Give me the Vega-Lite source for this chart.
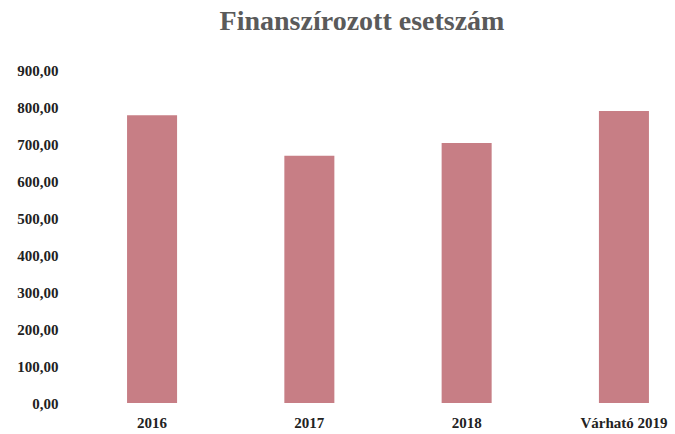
{
  "$schema": "https://vega.github.io/schema/vega-lite/v6.json",
  "autosize": {"type": "none"},
  "width": 576,
  "height": 333,
  "padding": {"left": 100, "top": 70, "right": 0, "bottom": 31},
  "background": "white",
  "title": {
    "text": "Finanszírozott esetszám",
    "font": "Liberation Serif",
    "fontSize": 28,
    "fontWeight": "bold",
    "color": "#5a5a5a",
    "anchor": "middle",
    "frame": "group",
    "baseline": "alphabetic",
    "offset": 5,
    "dx": -26
  },
  "data": {
    "values": [
      {"ev": "2016", "ertek": 778},
      {"ev": "2017", "ertek": 668},
      {"ev": "2018", "ertek": 703},
      {"ev": "Várható 2019", "ertek": 789}
    ]
  },
  "mark": {"type": "bar", "color": "#c77e85"},
  "encoding": {
    "x": {
      "field": "ev",
      "type": "nominal",
      "sort": null,
      "scale": {"paddingInner": 0.682, "paddingOuter": 0.172},
      "axis": {
        "title": null,
        "labelAngle": 0,
        "domain": false,
        "ticks": false,
        "labelPadding": 12,
        "labelFont": "Liberation Serif",
        "labelFontSize": 15,
        "labelFontWeight": "bold",
        "labelColor": "#222222"
      }
    },
    "y": {
      "field": "ertek",
      "type": "quantitative",
      "scale": {"domain": [0, 900], "nice": false},
      "axis": {
        "title": null,
        "values": [0, 100, 200, 300, 400, 500, 600, 700, 800, 900],
        "labelExpr": "replace(format(datum.value, '.2f'), '.', ',')",
        "grid": false,
        "domain": false,
        "ticks": false,
        "labelPadding": 42,
        "labelFont": "Liberation Serif",
        "labelFontSize": 15,
        "labelFontWeight": "bold",
        "labelColor": "#222222"
      }
    }
  },
  "config": {"view": {"stroke": null}}
}
